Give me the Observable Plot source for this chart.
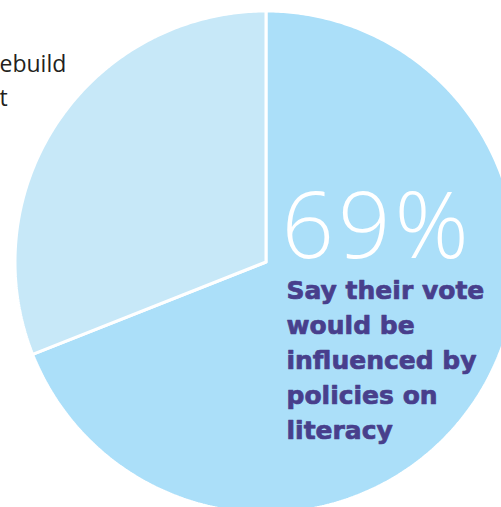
<!DOCTYPE html>
<html>
<head>
<meta charset="utf-8">
<script src="https://cdn.jsdelivr.net/npm/d3@7"></script>
<script src="https://cdn.jsdelivr.net/npm/@observablehq/plot@0.6"></script>
<style>
  html, body { margin: 0; padding: 0; background: #fff; overflow: hidden; }
  #chart svg { display: block; overflow: hidden; }
</style>
</head>
<body>
<div id="chart"></div>
<script>
// ---- data ----
const categories = ["Influenced by policies on literacy", "Other"];
const values = [69, 31];
const sliceColors = ["#abdff9", "#c7e8f8"];
const bigLabel = "69%";
const mainLabelLines = ["Say their vote", "would be", "influenced by", "policies on", "literacy"];
const sideLabelLines = ["ebuild", "t"];

// ---- layout ----
const W = 501, H = 507;
const cx = 265.5, cy = 261.5, R = 251;
const ux = px => (px - cx) / R;      // pixel -> unit x
const uy = py => (cy - py) / R;      // pixel -> unit y

// build slice polygons (unit circle, clockwise from 12 o'clock)
const total = d3.sum(values);
const pts = [];
let acc = 0;
values.forEach((v, i) => {
  const a0 = acc / total * 2 * Math.PI;
  const a1 = (acc + v) / total * 2 * Math.PI;
  acc += v;
  const n = Math.max(2, Math.ceil((a1 - a0) / 0.01));
  pts.push({cat: categories[i], x: 0, y: 0});
  for (let k = 0; k <= n; k++) {
    const a = a0 + (a1 - a0) * k / n;
    pts.push({cat: categories[i], x: Math.sin(a), y: Math.cos(a)});
  }
  pts.push({cat: categories[i], x: 0, y: 0});
});

const chart = Plot.plot({
  width: W,
  height: H,
  margin: 0,
  style: {background: "#fff", overflow: "hidden"},
  x: {domain: [-1, 1], range: [cx - R, cx + R], axis: null},
  y: {domain: [-1, 1], range: [cy + R, cy - R], axis: null},
  color: {domain: categories, range: sliceColors},
  marks: [
    Plot.line(pts, {x: "x", y: "y", z: "cat", fill: "cat", stroke: "#fff", strokeWidth: 3, strokeLinejoin: "miter", curve: "linear"}),
    Plot.text([bigLabel], {
      x: ux(281), y: uy(257), text: d => d, textAnchor: "start", lineAnchor: "bottom",
      fill: "#fff", fontSize: 92, fontWeight: 300, fontFamily: "Open Sans",
      className: "big-label"
    }),
    Plot.text([mainLabelLines.join("\n")], {
      x: ux(286), y: uy(438), text: d => d, textAnchor: "start", lineAnchor: "bottom", lineHeight: 1.4,
      fill: "#483f8c", stroke: "#483f8c", strokeWidth: 0.7, fontSize: 25, fontWeight: 700, fontFamily: "DejaVu Sans",
      className: "main-label"
    }),
    Plot.text([sideLabelLines.join("\n")], {
      x: ux(-1), y: uy(105), text: d => d, textAnchor: "start", lineAnchor: "bottom", lineHeight: 1.45,
      fill: "#231f20", fontSize: 23, fontWeight: 400, fontFamily: "Open Sans"
    })
  ]
});
d3.select(chart).selectAll(".big-label text").attr("letter-spacing", "4px");
document.getElementById("chart").append(chart);
</script>
</body>
</html>
